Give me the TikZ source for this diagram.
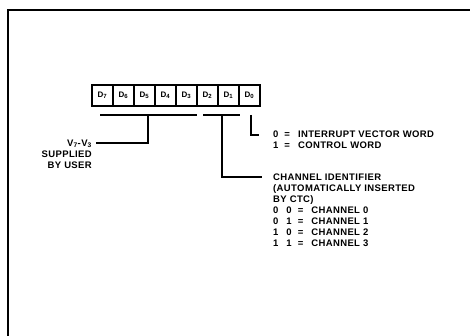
\documentclass[tikz,border=0pt]{standalone}
\usepackage{fontspec}
\setmainfont{Liberation Sans}[LetterSpace=4]
\usetikzlibrary{calc,positioning}
\tikzset{%
	bitbox/.style = {draw, rectangle, line width=1.3pt, minimum width=21pt, minimum height=21pt, inner sep=0pt, outer sep=0pt, font=\fontsize{8}{9}\selectfont\bfseries},
	note/.style   = {inner sep=0pt, font=\fontsize{9.5}{11}\selectfont\bfseries},
	lead/.style   = {line width=1.1pt},
}
\newcommand{\eqrow}[2]{#1\hspace{6pt}=\hspace{8pt}#2}
\newcommand{\chrow}[3]{#1\hspace{8pt}#2\hspace{6pt}=\hspace{8pt}CHANNEL #3}

\begin{document}
\begin{tikzpicture}[x=1pt,y=-1pt]
	\useasboundingbox (0,0) rectangle (470,336);
	\draw[line width=1.5pt] (8,336) -- (8,10) -- (470,10);
	
	\foreach \b [count=\i from 0] in {7,6,...,0} \node[bitbox] (d\b) at (102.5+21*\i,95.5) {D\textsubscript{\b}};
	
	\node[note, anchor=north east, align=right] (usr) at (92,139.5) {V\textsubscript{7}-V\textsubscript{3}\\SUPPLIED\\BY USER};
	\node[note, anchor=north west, align=left] (vec) at (273,131) {\eqrow{0}{INTERRUPT VECTOR WORD}\\\eqrow{1}{CONTROL WORD}};
	\node[note, anchor=north west, align=left] (chan) at (273,174) {CHANNEL IDENTIFIER\\(AUTOMATICALLY INSERTED\\BY CTC)\\\chrow{0}{0}{0}\\\chrow{0}{1}{1}\\\chrow{1}{0}{2}\\\chrow{1}{1}{3}};
	
	% D7-D3
	\draw[lead] ($(d7.south west)+(8,9)$) -- ($(d3.south east)+(0,9)$);
	\draw[lead] ($(d5.south east)+(-7,9)$) |- ($(usr.north east)+(4,3.5)$);
	% D2-D1
	\draw[lead] ($(d2.south west)+(6,9)$) -- ($(d1.south east)+(1,9)$);
	\draw[lead] ($(d2.south east)+(4,9)$) |- ($(chan.north west)+(-11,3)$);
	% D0
	\draw[lead] ($(d0.south west)+(12,9)$) |- ($(vec.north west)+(-14,4)$);
\end{tikzpicture}
\end{document}
